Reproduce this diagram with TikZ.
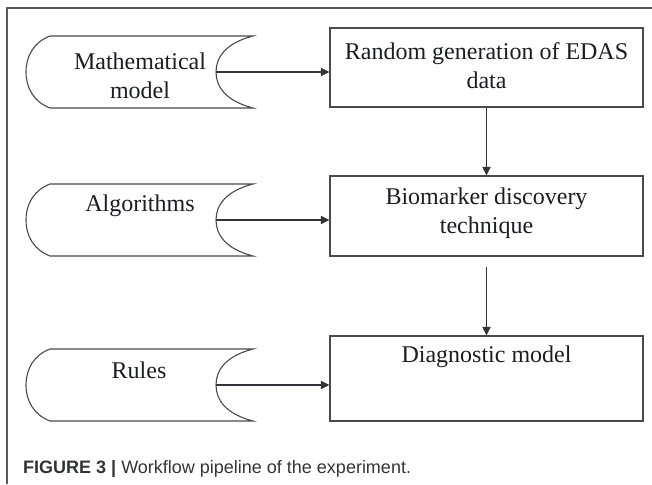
\documentclass[tikz,border=0pt]{standalone}
\usepackage{fontspec}
\setmainfont{Liberation Serif}
\newfontfamily\capfont{Liberation Sans}
\usetikzlibrary{arrows.meta}
\definecolor{linegray}{HTML}{4A4A4A}
\definecolor{framegray}{HTML}{5A5A5A}
\definecolor{inkdark}{HTML}{1C1C24}
\tikzset{
  outline/.style={draw=linegray, line width=1.1pt},
  box/.style={outline, rectangle, minimum width=313pt, inner sep=0pt},
  lbl/.style={text=inkdark, align=center, inner sep=0pt,
    font=\fontsize{24}{29}\selectfont},
  arr/.style={draw=inkdark!90, line width=1.2pt,
    -{Triangle[length=8.5pt,width=8pt]}},
}
% stored-data symbol: convex left side, concave right side
\newcommand{\storedshape}[2]{%
  \draw[outline] (50,#1) -- (253,#1)
    .. controls (226,#1+7) and (216,#1+21) .. (216,#1+36)
    .. controls (216,#1+51) and (226,#1+65) .. (253,#1+72)
    -- (50,#1+72)
    .. controls (34,#1+66) and (26,#1+52) .. (26,#1+36)
    .. controls (26,#1+20) and (34,#1+6) .. (50,#1);
  \coordinate (#2) at (216,#1+36);
}
\begin{document}
\begin{tikzpicture}[x=1pt, y=-1pt]
  \useasboundingbox (0,0) rectangle (652,484);
  % frame lines
  \draw[draw=framegray, line width=1.5pt] (652,8) -- (7,8) -- (7,484);

  % inputs
  \storedshape{36}{s1}
  \storedshape{184}{s2}
  \storedshape{349}{s3}
  \node[lbl] (t1) at (140,76) {Mathematical\\model};
  \node[lbl] (t2) at (140,206) {Algorithms};
  \node[lbl] (t3) at (139,370) {Rules};

  % process boxes
  \node[box, minimum height=79pt] (b1) at (486.5,67.5) {};
  \node[lbl] (l1) at (486.5,65.5) {Random generation of EDAS\\data};
  \node[box, minimum height=80pt] (b2) at (486.5,216) {};
  \node[lbl] (l2) at (486.5,213) {Biomarker discovery\\technique};
  \node[box, minimum height=85pt] (b3) at (486.5,378.5) {};
  \node[lbl] (l3) at (486.5,357) {Diagnostic model};

  % connectors
  \draw[arr] (s1) -- (b1.west |- s1);
  \draw[arr] (s2) -- (b2.west |- s2);
  \draw[arr] (s3) -- (b3.west |- s3);
  \draw[arr] (b1.south) -- (b2.north);
  \draw[arr, shorten <=10pt] (b2.south) -- (b3.north);

  % caption
  \node[anchor=base west, inner sep=0pt, text=inkdark!90,
        font=\capfont\fontsize{18}{22}\selectfont] (cap) at (23,473)
    {\textbf{FIGURE 3 |} Workflow pipeline of the experiment.};
\end{tikzpicture}
\end{document}
